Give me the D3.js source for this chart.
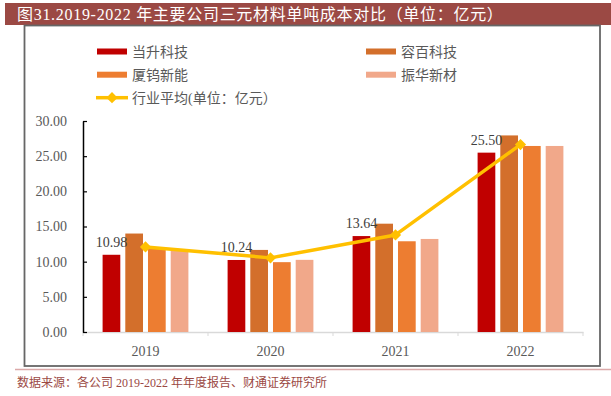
<!DOCTYPE html>
<html><head><meta charset="utf-8">
<script src="https://cdn.jsdelivr.net/npm/d3@7"></script>
<style>body{margin:0;background:#fff}svg{display:block}</style>
</head><body>
<script>
const categories = ["2019", "2020", "2021", "2022"];
const seriesNames = ["当升科技", "容百科技", "厦钨新能", "振华新材"];
const dangsheng = [10.98, 10.24, 13.64, 25.50];
const rongbai = [14.0, 11.67, 15.4, 27.95];
const xiawu = [11.9, 9.93, 12.9, 26.45];
const zhenhua = [11.6, 10.26, 13.23, 26.45];
const average = [12.1, 10.54, 13.8, 26.65];
const averageName = "行业平均(单位：亿元）";
const yTicks = [0, 5, 10, 15, 20, 25, 30];
const titleText = "图31.2019-2022 年主要公司三元材料单吨成本对比（单位：亿元）";
const sourceText = "数据来源：各公司 2019-2022 年年度报告、财通证券研究所";

const seriesValues = [dangsheng, rongbai, xiawu, zhenhua];
const colors = ["#C00000", "#D36F2B", "#ED7D31", "#F1A88A"];
const lineColor = "#FFC000";
const latin = "'Liberation Serif', 'Times New Roman', 'Noto Sans CJK SC', serif";
const cjk = "'Liberation Serif', 'Noto Sans CJK SC', sans-serif";

const W = 611, H = 396;
const svg = d3.select("body").append("svg").attr("width", W).attr("height", H);

// title bar
svg.append("rect").attr("x", 5).attr("y", 3).attr("width", W - 5).attr("height", 22).attr("fill", "#9B4944");
svg.append("text").attr("x", 17).attr("y", 20).attr("fill", "#fff")
  .attr("font-family", cjk).attr("font-size", 16).attr("letter-spacing", 0.7).text(titleText);

// frame
svg.append("rect").attr("x", 24.5).attr("y", 25.5).attr("width", 575.5).attr("height", 340.5)
  .attr("fill", "none").attr("stroke", "#666").attr("stroke-width", 1.8);
svg.append("line").attr("x1", 15).attr("x2", W).attr("y1", 369.5).attr("y2", 369.5)
  .attr("stroke", "#DBA9A9").attr("stroke-width", 1.5);
svg.append("text").attr("x", 17).attr("y", 387).attr("fill", "#9B4944")
  .attr("font-family", cjk).attr("font-size", 12).text(sourceText);

// scales
const x0 = d3.scaleBand().domain(categories).range([83, 583]);
const x1 = d3.scaleBand().domain(seriesNames).range([17.1, 107.9]).paddingInner(0.22).paddingOuter(0.11);
const y = d3.scaleLinear().domain([0, 30]).range([332, 121]);

// x axis
const xAxis = svg.append("g").attr("transform", "translate(0,332)")
  .call(d3.axisBottom(x0).tickSize(0).tickPadding(14));
xAxis.select(".domain").attr("stroke", "#D9D9D9").attr("stroke-width", 1.5);
xAxis.selectAll("text").attr("font-family", latin).attr("font-size", 14).attr("fill", "#595959");
svg.append("g").selectAll("line").data(categories.concat(["end"])).join("line")
  .attr("x1", (d, i) => i < categories.length ? x0(d) : x0.range()[1])
  .attr("x2", (d, i) => i < categories.length ? x0(d) : x0.range()[1])
  .attr("y1", 332).attr("y2", 336).attr("stroke", "#D9D9D9");

// bars
const groups = svg.append("g").selectAll("g").data(categories).join("g")
  .attr("transform", d => `translate(${x0(d)},0)`);
groups.selectAll("rect").data((c, ci) => seriesNames.map((s, si) => ({s, si, v: seriesValues[si][ci]})))
  .join("rect")
  .attr("x", d => x1(d.s)).attr("width", x1.bandwidth())
  .attr("y", d => y(d.v)).attr("height", d => y(0) - y(d.v))
  .attr("fill", d => colors[d.si]);

// y axis
const yAxis = svg.append("g").attr("transform", "translate(83,0)")
  .call(d3.axisLeft(y).tickValues(yTicks).tickFormat(d3.format(".2f")).tickSizeInner(-4).tickSizeOuter(0).tickPadding(16));
yAxis.select(".domain").attr("stroke", "#000").attr("stroke-width", 1.5);
yAxis.selectAll(".tick line").attr("stroke", "#000").attr("stroke-width", 1.2);
yAxis.selectAll("text").attr("font-family", latin).attr("font-size", 14).attr("fill", "#595959");

// data labels (first series)
svg.append("g").selectAll("text").data(categories).join("text")
  .attr("x", (d) => x0(d) + x1(seriesNames[0]) + x1.bandwidth() / 2)
  .attr("y", (d, i) => y(dangsheng[i]) - 8)
  .attr("text-anchor", "middle").attr("font-family", latin).attr("font-size", 14).attr("fill", "#404040")
  .text((d, i) => d3.format(".2f")(dangsheng[i]));

// average line
const lineGen = d3.line().x((d, i) => x0(categories[i]) + x0.bandwidth() / 2).y(d => y(d));
svg.append("path").datum(average).attr("d", lineGen).attr("fill", "none")
  .attr("stroke", lineColor).attr("stroke-width", 3.5).attr("stroke-linejoin", "round");
const diamond = d3.symbol().type(d3.symbolDiamond2).size(80);
svg.append("g").selectAll("path").data(average).join("path")
  .attr("transform", (d, i) => `translate(${x0(categories[i]) + x0.bandwidth() / 2},${y(d)})`)
  .attr("d", diamond).attr("fill", lineColor);

// legend
const legendItems = [
  {name: seriesNames[0], color: colors[0], x: 97, y: 51.5},
  {name: seriesNames[1], color: colors[1], x: 366, y: 51.5},
  {name: seriesNames[2], color: colors[2], x: 97, y: 74.7},
  {name: seriesNames[3], color: colors[3], x: 366, y: 74.7}
];
const lg = svg.append("g");
legendItems.forEach(it => {
  lg.append("rect").attr("x", it.x).attr("y", it.y - 3).attr("width", 30).attr("height", 6).attr("fill", it.color);
  lg.append("text").attr("x", it.x + 35).attr("y", it.y).attr("dy", "0.36em")
    .attr("font-family", cjk).attr("font-size", 14).attr("fill", "#595959").text(it.name);
});
lg.append("line").attr("x1", 96).attr("x2", 128).attr("y1", 97.7).attr("y2", 97.7)
  .attr("stroke", lineColor).attr("stroke-width", 3.5);
lg.append("path").attr("transform", "translate(112,97.7)").attr("d", diamond).attr("fill", lineColor);
lg.append("text").attr("x", 132).attr("y", 97.7).attr("dy", "0.36em")
  .attr("font-family", cjk).attr("font-size", 14).attr("fill", "#595959").text(averageName);
</script>
</body></html>
